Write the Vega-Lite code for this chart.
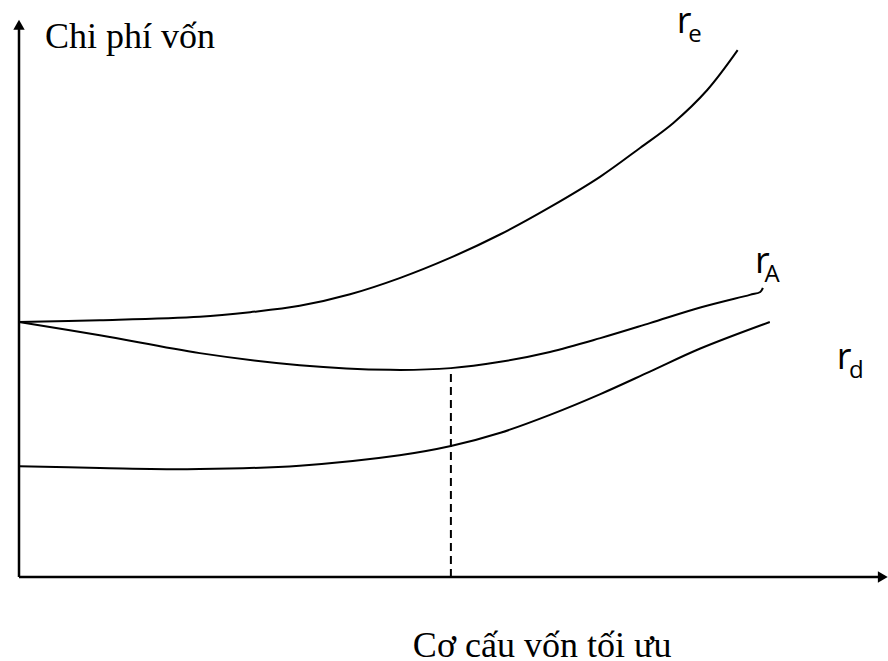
{
  "$schema": "https://vega.github.io/schema/vega-lite/v6.json",
  "width": 869,
  "height": 577,
  "autosize": {"type": "none"},
  "padding": {"left": 19, "top": 0, "right": 0, "bottom": 84},
  "background": "white",
  "config": {"view": {"stroke": null}},
  "datasets": {
    "curves": [
      {"series": "re", "x": 0, "y": 44.2},
      {"series": "re", "x": 9.3, "y": 44.5},
      {"series": "re", "x": 20.8, "y": 45.1},
      {"series": "re", "x": 26.6, "y": 45.9},
      {"series": "re", "x": 32.3, "y": 47.0},
      {"series": "re", "x": 38.1, "y": 49.0},
      {"series": "re", "x": 43.8, "y": 51.8},
      {"series": "re", "x": 49.6, "y": 55.3},
      {"series": "re", "x": 55.4, "y": 59.4},
      {"series": "re", "x": 61.1, "y": 64.1},
      {"series": "re", "x": 66.9, "y": 69.4},
      {"series": "re", "x": 71.5, "y": 74.4},
      {"series": "re", "x": 75.3, "y": 78.7},
      {"series": "re", "x": 79.2, "y": 84.4},
      {"series": "re", "x": 82.7, "y": 91.3},
      {"series": "rA", "x": 0, "y": 44.2},
      {"series": "rA", "x": 9.3, "y": 41.9},
      {"series": "rA", "x": 20.8, "y": 38.8},
      {"series": "rA", "x": 32.3, "y": 36.7},
      {"series": "rA", "x": 42.7, "y": 35.9},
      {"series": "rA", "x": 49.7, "y": 36.2},
      {"series": "rA", "x": 55.4, "y": 37.3},
      {"series": "rA", "x": 61.1, "y": 39.0},
      {"series": "rA", "x": 66.9, "y": 41.4},
      {"series": "rA", "x": 72.6, "y": 44.0},
      {"series": "rA", "x": 78.4, "y": 46.7},
      {"series": "rA", "x": 84.1, "y": 48.9},
      {"series": "rA", "x": 85.3, "y": 49.4},
      {"series": "rA", "x": 85.6, "y": 50.1},
      {"series": "rd", "x": 0, "y": 19.2},
      {"series": "rd", "x": 9.3, "y": 18.9},
      {"series": "rd", "x": 20.8, "y": 18.7},
      {"series": "rd", "x": 32.3, "y": 19.3},
      {"series": "rd", "x": 43.8, "y": 21.1},
      {"series": "rd", "x": 49.7, "y": 22.7},
      {"series": "rd", "x": 55.4, "y": 25.0},
      {"series": "rd", "x": 61.1, "y": 28.1},
      {"series": "rd", "x": 66.9, "y": 31.7},
      {"series": "rd", "x": 72.6, "y": 35.6},
      {"series": "rd", "x": 78.4, "y": 39.6},
      {"series": "rd", "x": 86.4, "y": 44.2}
    ],
    "axes": [
      {"ax": "y", "x": 0, "y": 0},
      {"ax": "y", "x": 0, "y": 95},
      {"ax": "x", "x": 0, "y": 0},
      {"ax": "x", "x": 99, "y": 0}
    ],
    "arrows": [
      {"x": 0, "y": 95.7, "shape": "triangle-up"},
      {"x": 99.4, "y": 0, "shape": "triangle-right"}
    ],
    "optimum": [{"x": 49.7, "y": 0, "y2": 36.2}],
    "titleY": [{"x": 3.0, "y": 91.7, "t": "Chi phí vốn"}],
    "titleX": [{"x": 60.2, "y": -13.9, "t": "Cơ cấu vốn tối ưu"}],
    "sansText": [
      {"x": 75.7, "y": 94.3, "t": "r", "s": 36},
      {"x": 77.0, "y": 92.7, "t": "e", "s": 24},
      {"x": 84.7, "y": 52.7, "t": "r", "s": 36},
      {"x": 85.8, "y": 51.1, "t": "A", "s": 24},
      {"x": 94.1, "y": 36.0, "t": "r", "s": 36},
      {"x": 95.5, "y": 34.5, "t": "d", "s": 24}
    ]
  },
  "encoding": {
    "x": {"field": "x", "type": "quantitative", "scale": {"domain": [0, 100], "nice": false, "zero": false}, "axis": null},
    "y": {"field": "y", "type": "quantitative", "scale": {"domain": [0, 100], "nice": false, "zero": false}, "axis": null}
  },
  "layer": [
    {
      "data": {"name": "curves"},
      "mark": {"type": "line", "color": "black", "strokeWidth": 2, "interpolate": "catmull-rom"},
      "encoding": {"detail": {"field": "series", "type": "nominal"}}
    },
    {
      "data": {"name": "axes"},
      "mark": {"type": "line", "color": "black", "strokeWidth": 2.5},
      "encoding": {"detail": {"field": "ax", "type": "nominal"}}
    },
    {
      "data": {"name": "optimum"},
      "mark": {"type": "rule", "color": "black", "strokeWidth": 2, "strokeDash": [8, 5]},
      "encoding": {"y2": {"field": "y2"}}
    },
    {
      "data": {"name": "arrows"},
      "mark": {"type": "point", "filled": true, "color": "black", "opacity": 1, "size": 130},
      "encoding": {"shape": {"field": "shape", "type": "nominal", "scale": null}}
    },
    {
      "data": {"name": "titleY"},
      "mark": {"type": "text", "font": "Liberation Serif", "fontSize": 36, "align": "left", "baseline": "alphabetic", "color": "black"},
      "encoding": {"text": {"field": "t"}}
    },
    {
      "data": {"name": "titleX"},
      "mark": {"type": "text", "font": "Liberation Serif", "fontSize": 36, "align": "center", "baseline": "alphabetic", "color": "black"},
      "encoding": {"text": {"field": "t"}}
    },
    {
      "data": {"name": "sansText"},
      "mark": {"type": "text", "font": "Open Sans", "align": "left", "baseline": "alphabetic", "color": "black"},
      "encoding": {
        "text": {"field": "t"},
        "size": {"field": "s", "type": "quantitative", "scale": null}
      }
    }
  ]
}
